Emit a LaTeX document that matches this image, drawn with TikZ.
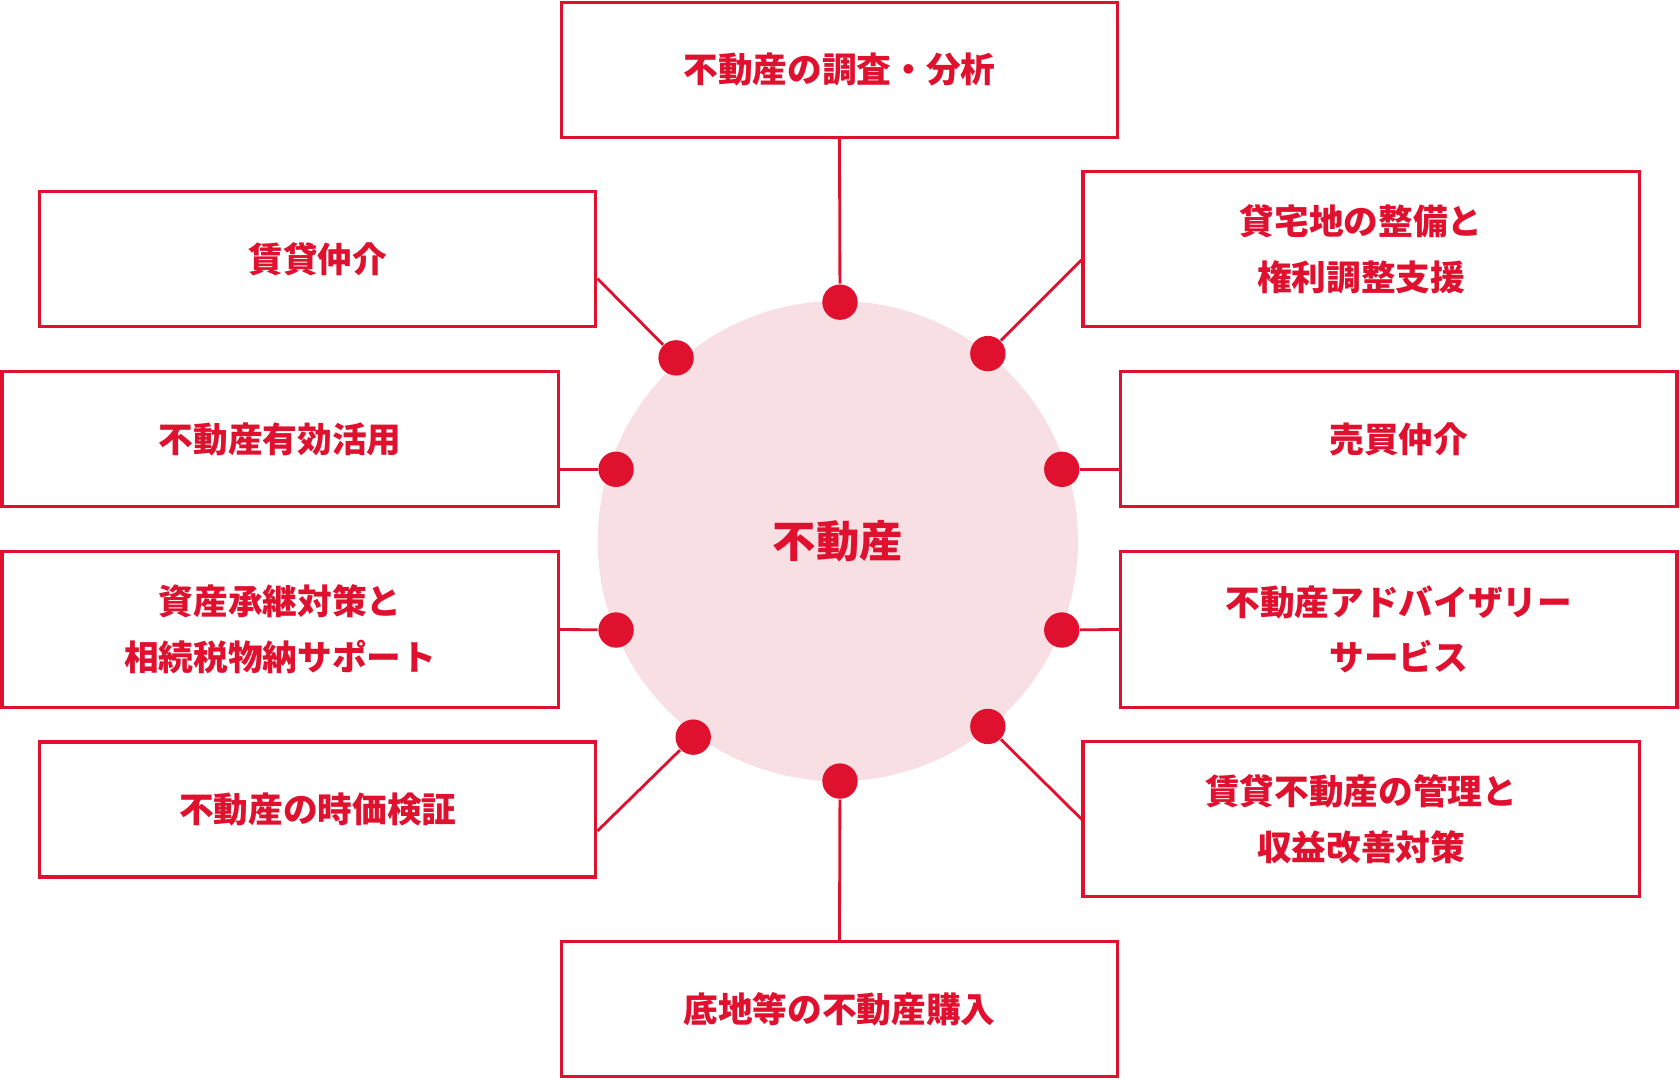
\documentclass[tikz,border=0pt]{standalone}
\usepackage{fontspec}
\newfontfamily\cjk{Noto Sans CJK JP}
\usetikzlibrary{positioning, calc}
\definecolor{akai}{HTML}{E0102F}
\definecolor{usuaka}{HTML}{F8DFE3}
\tikzset{
    kasten/.style={
        draw=akai,
        line width=0.85pt,
        fill=white,
        minimum width=5.19cm,
        minimum height=1.26cm,
        align=center,
        text=akai,
        font=\cjk\bfseries\fontsize{9.2pt}{14.8pt}\selectfont
    },
    hoch/.style={minimum height=1.45cm},
    punkt/.style={
        circle,
        fill=akai,
        inner sep=0pt,
        minimum size=0.33cm
    },
    linie/.style={draw=akai, line width=0.75pt}
}
\begin{document}
\begin{tikzpicture}[x=0.01cm, y=-0.01cm]
    \useasboundingbox (0,0) rectangle (1568,1008);

    % Mitte
    \node[circle, fill=usuaka, minimum size=4.48cm, inner sep=0pt,
          text=akai, font=\cjk\bfseries\fontsize{11.5pt}{14pt}\selectfont] (mitte) at (782,505) {不動産};

    % Kästen
    \node[kasten] (oben)   at (783.5,65)   {不動産の調査・分析};
    \node[kasten] (chin)   at (296.5,242)  {賃貸仲介};
    \node[kasten, hoch] (taku) at (1270.5,232.5) {貸宅地の整備と\\権利調整支援};
    \node[kasten] (yuko)   at (261.5,410)  {不動産有効活用};
    \node[kasten] (bai)    at (1305.5,410) {売買仲介};
    \node[kasten, hoch] (shisan) at (261.5,587.5) {資産承継対策と\\相続税物納サポート};
    \node[kasten, hoch] (adv)    at (1305.5,587.5) {不動産アドバイザリー\\サービス};
    \node[kasten] (jika)   at (296.5,755.5) {不動産の時価検証};
    \node[kasten, hoch] (kanri)  at (1270.5,764.5) {賃貸不動産の管理と\\収益改善対策};
    \node[kasten] (soko)   at (783.5,942)  {底地等の不動産購入};

    % Punkte
    \node[punkt] (p1)  at (784,282) {};
    \node[punkt] (p2)  at (631,334) {};
    \node[punkt] (p3)  at (922,330) {};
    \node[punkt] (p4)  at (575,438) {};
    \node[punkt] (p5)  at (991,438) {};
    \node[punkt] (p6)  at (575,588) {};
    \node[punkt] (p7)  at (991,588) {};
    \node[punkt] (p8)  at (647,688) {};
    \node[punkt] (p9)  at (922,678) {};
    \node[punkt] (p10) at (784,729) {};

    % Verbindungen
    \draw[linie] (oben.south) -- (p1);
    \draw[linie] ($(chin.east)+(0,18)$) -- (p2);
    \draw[linie] ($(taku.west)+(0,10)$) -- (p3);
    \draw[linie] ($(yuko.east)+(0,28)$) -- (p4);
    \draw[linie] ($(bai.west)+(0,28)$) -- (p5);
    \draw[linie] (shisan.east) -- (p6);
    \draw[linie] (adv.west) -- (p7);
    \draw[linie] ($(jika.east)+(0,20)$) -- (p8);
    \draw[linie] (kanri.west) -- (p9);
    \draw[linie] (soko.north) -- (p10);
\end{tikzpicture}
\end{document}
